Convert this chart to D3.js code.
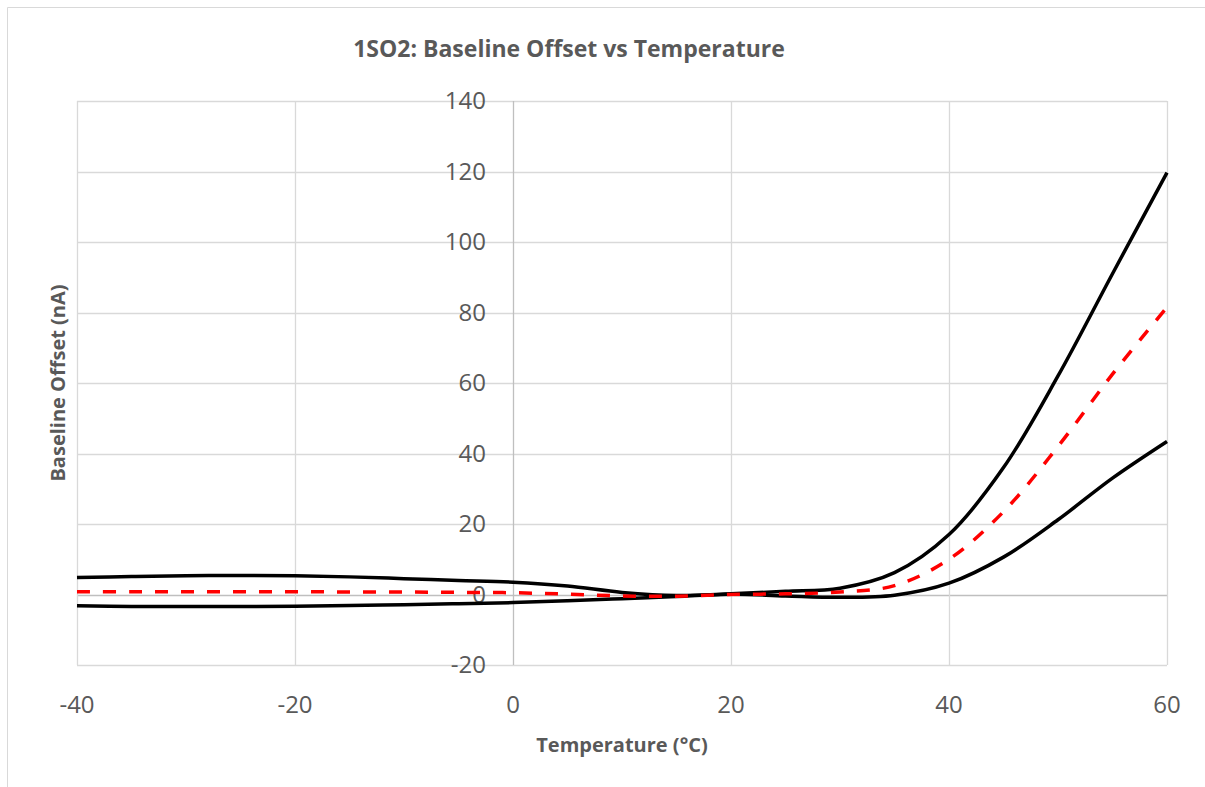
<!DOCTYPE html>
<html lang="en">
<head>
<meta charset="UTF-8">
<script src="https://d3js.org/d3.v7.min.js"></script>
<style>
  body { margin: 0; background: #fff; }
  text { font-family: "Open Sans", sans-serif; fill: #595959; }
</style>
</head>
<body>
<div id="chart"></div>
<script>
// Data (temperature in °C, offset in nA)
const temps = [-40, -35, -30, -25, -20, -15, -10, -5, 0, 5, 10, 15, 20, 25, 30, 35, 40, 45, 50, 55, 60];
const upper = [4.8, 5.1, 5.3, 5.4, 5.3, 5.0, 4.5, 4.0, 3.5, 2.4, 0.6, -0.3, 0.2, 0.9, 1.8, 6.2, 17, 36, 62, 91, 119.7];
const mean  = [0.8, 0.8, 0.8, 0.8, 0.8, 0.7, 0.7, 0.6, 0.5, 0.1, -0.4, -0.5, 0, 0.2, 0.7, 2.5, 10, 23.5, 42, 62.5, 81.5];
const lower = [-3.2, -3.4, -3.4, -3.4, -3.3, -3.1, -2.9, -2.6, -2.3, -1.8, -1.2, -0.6, 0.1, -0.4, -0.8, -0.2, 3.2, 10.6, 21.2, 33, 43.4];
const xTicks = [-40, -20, 0, 20, 40, 60];
const yTicks = [-20, 0, 20, 40, 60, 80, 100, 120, 140];

const width = 1205, height = 787;
const margin = { top: 101, right: 38, bottom: 122, left: 77 };
const innerWidth = width - margin.left - margin.right;
const innerHeight = height - margin.top - margin.bottom;

const svg = d3.select("#chart").append("svg")
  .attr("width", width)
  .attr("height", height);

// chart border: only the top and left edges are visible
svg.append("path")
  .attr("d", `M7.5,${height} V7.5 H${width}`)
  .attr("fill", "none")
  .attr("stroke", "#d9d9d9");

const g = svg.append("g").attr("transform", `translate(${margin.left},${margin.top})`);

const x = d3.scaleLinear().domain([-40, 60]).range([0, innerWidth]);
const y = d3.scaleLinear().domain([-20, 140]).range([innerHeight, 0]);

// gridlines
g.append("g")
  .selectAll("line")
  .data(yTicks)
  .join("line")
  .attr("x1", 0).attr("x2", innerWidth)
  .attr("y1", d => Math.round(y(d)) + 0.5).attr("y2", d => Math.round(y(d)) + 0.5)
  .attr("stroke", d => d === 0 ? "#bfbfbf" : "#d9d9d9")
  .attr("stroke-width", 1.3);

g.append("g")
  .selectAll("line")
  .data(xTicks)
  .join("line")
  .attr("x1", d => Math.round(x(d)) + 0.5).attr("x2", d => Math.round(x(d)) + 0.5)
  .attr("y1", 0).attr("y2", innerHeight)
  .attr("stroke", d => d === 0 ? "#bfbfbf" : "#d9d9d9")
  .attr("stroke-width", 1.3);

// y tick labels sit next to the axis at x = 0
g.append("g")
  .selectAll("text")
  .data(yTicks)
  .join("text")
  .attr("x", x(0) - 27)
  .attr("y", d => y(d))
  .attr("dy", "0.35em")
  .attr("text-anchor", "end")
  .style("font-size", "24px")
  .text(d => d);

// x tick labels at the bottom
g.append("g")
  .selectAll("text")
  .data(xTicks)
  .join("text")
  .attr("x", d => x(d))
  .attr("y", innerHeight + 48)
  .attr("text-anchor", "middle")
  .style("font-size", "24px")
  .text(d => d);

// lines
const series = [
  { values: upper, color: "#000", dash: null },
  { values: lower, color: "#000", dash: null },
  { values: mean, color: "#ff0000", dash: "13,13" }
];

const line = d3.line()
  .x(d => x(d[0]))
  .y(d => y(d[1]))
  .curve(d3.curveCatmullRom.alpha(0.5));

g.selectAll(".series")
  .data(series)
  .join("path")
  .attr("class", "series")
  .attr("fill", "none")
  .attr("stroke", d => d.color)
  .attr("stroke-width", 3.5)
  .attr("stroke-dasharray", d => d.dash)
  .attr("d", d => line(temps.map((t, i) => [t, d.values[i]])));

// titles
svg.append("text")
  .attr("x", 569)
  .attr("y", 57)
  .attr("text-anchor", "middle")
  .style("font-size", "23px")
  .style("font-weight", "bold")
  .text("1SO2: Baseline Offset vs Temperature");

svg.append("text")
  .attr("x", margin.left + innerWidth / 2)
  .attr("y", 752)
  .attr("text-anchor", "middle")
  .style("font-size", "20px")
  .style("font-weight", "bold")
  .text("Temperature (°C)");

svg.append("text")
  .attr("transform", `translate(65, ${margin.top + innerHeight / 2}) rotate(-90)`)
  .attr("text-anchor", "middle")
  .style("font-size", "20px")
  .style("font-weight", "bold")
  .text("Baseline Offset (nA)");
</script>
</body>
</html>
